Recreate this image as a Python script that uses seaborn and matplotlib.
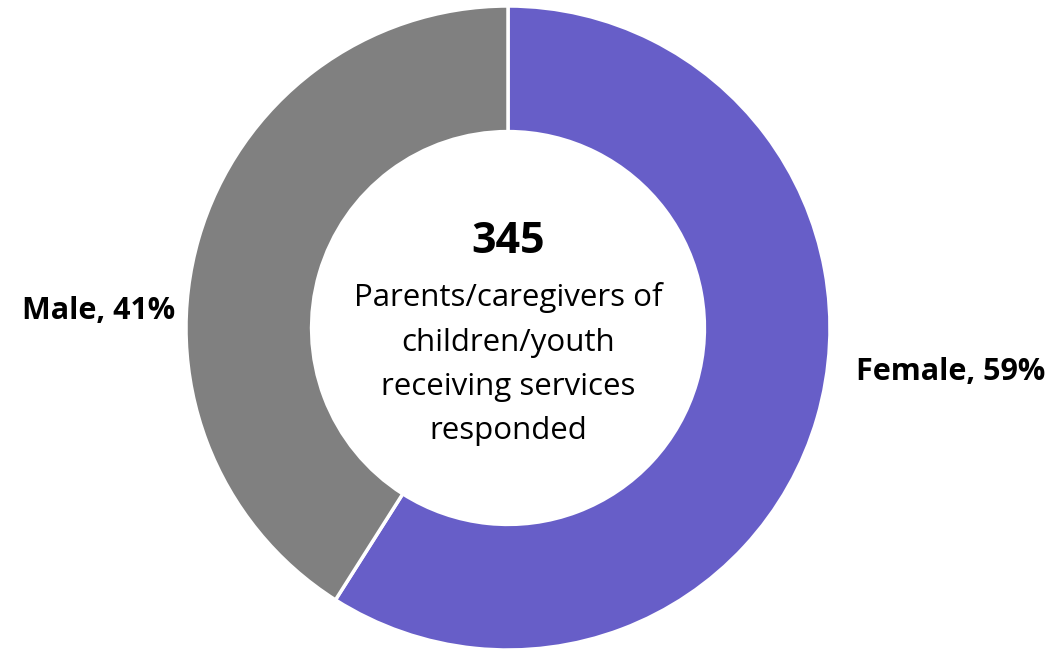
import matplotlib
matplotlib.use("Agg")
import matplotlib.pyplot as plt
import seaborn as sns

categories = ["Female", "Male"]
shares = [59, 41]
colors = ["#675EC8", "#808080"]
respondents = 345
center_caption = "Parents/caregivers of\nchildren/youth\nreceiving services\nresponded"

sns.set_theme(style="white")
plt.rcParams["font.family"] = ["Open Sans", "DejaVu Sans"]

fig = plt.figure(figsize=(10.55, 6.51), dpi=100)
cx, cy, r = 508, 328, 322
W, H = 1055, 651
ax = fig.add_axes([(cx - r) / W, (H - cy - r) / H, 2 * r / W, 2 * r / H])

ax.pie(shares, colors=colors, startangle=90, counterclock=False, radius=1,
       wedgeprops=dict(width=0.39, edgecolor="white", linewidth=2.5))
ax.set_xlim(-1, 1)
ax.set_ylim(-1, 1)
ax.set_aspect("equal")
ax.axis("off")

label_pos = {"Female": (1.376, -0.137), "Male": (-1.27, 0.053)}
for cat, val in zip(categories, shares):
    x, y = label_pos[cat]
    ax.text(x, y, f"{cat}, {val}%", ha="center", va="center", fontsize=22,
            fontweight="bold", color="black", clip_on=False)

ax.text(0, 0.268, f"{respondents}", ha="center", va="center", fontsize=31,
        fontweight="bold", color="black")
ax.text(0, -0.113, center_caption, ha="center", va="center", fontsize=22.5,
        color="black", linespacing=1.62)

fig.savefig("out.png", dpi=100)
